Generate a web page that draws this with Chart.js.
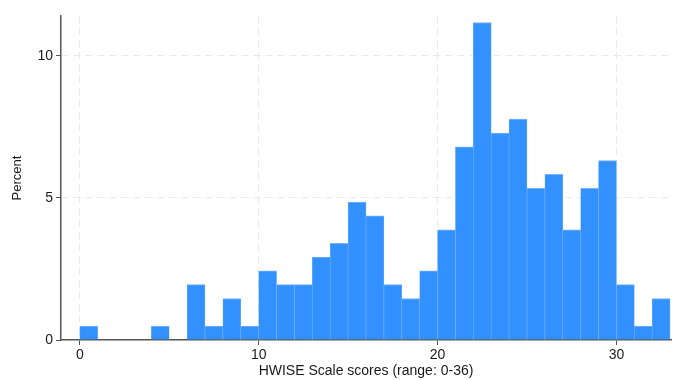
<!DOCTYPE html>
<html>
<head>
  <meta charset="UTF-8">
  <title>HWISE Scale scores</title>
  <script src="https://cdn.jsdelivr.net/npm/chart.js"></script>
  <style>
    html, body { margin: 0; padding: 0; background: #fff; }
    #wrap { width: 675px; height: 380px; }
  </style>
</head>
<body>
  <div id="wrap"><canvas id="hist" width="675" height="380"></canvas></div>

  <script>
    // histogram bins (score, width 1) and percent of respondents
    const binStarts = [0, 1, 2, 3, 4, 5, 6, 7, 8, 9, 10, 11, 12, 13, 14, 15, 16,
                       17, 18, 19, 20, 21, 22, 23, 24, 25, 26, 27, 28, 29, 30, 31, 32];
    const percents  = [0.49, 0, 0, 0, 0.49, 0, 1.95, 0.49, 1.46, 0.49, 2.43, 1.95, 1.95, 2.92, 3.40, 4.85, 4.37,
                       1.95, 1.46, 2.43, 3.88, 6.80, 11.17, 7.28, 7.77, 5.34, 5.83, 3.88, 5.34, 6.31, 1.95, 0.49, 1.46];
    const xTicks = [0, 10, 20, 30];
    const yTicks = [0, 5, 10];

    const txt = '#1a1a1a';
    const font = { family: 'Liberation Sans, Arial, sans-serif', size: 14 };

    const points = binStarts.map((s, i) => ({ x: s + 0.5, y: percents[i] }));

    new Chart(document.getElementById('hist'), {
      type: 'bar',
      data: {
        datasets: [{
          data: points,
          backgroundColor: '#3390ff',
          borderColor: '#74b4ff',
          borderWidth: { top: 1, left: 0.6, right: 0.6, bottom: 0 },
          borderSkipped: false,
          barPercentage: 1,
          categoryPercentage: 1
        }]
      },
      options: {
        responsive: false,
        animation: false,
        layout: { padding: { top: 16, right: 4, left: 0, bottom: 0 } },
        plugins: { legend: { display: false }, tooltip: { enabled: false } },
        scales: {
          x: {
            type: 'linear',
            offset: false,
            min: -1.05,
            max: 33.05,
            afterBuildTicks: s => { s.ticks = xTicks.map(v => ({ value: v })); },
            afterFit: s => { s.height = 40; },
            grid: { offset: false, color: '#e9e9e9', lineWidth: 1, tickColor: '#555', tickLength: 5 },
            border: { color: '#555', width: 1.5, dash: [7, 5] },
            ticks: { color: txt, font: font, padding: 2, maxRotation: 0 },
            title: { display: true, text: 'HWISE Scale scores (range: 0-36)', color: txt, font: font, padding: { top: 0, bottom: 0 } }
          },
          y: {
            min: 0,
            max: 11.4,
            afterBuildTicks: s => { s.ticks = yTicks.map(v => ({ value: v })); },
            afterFit: s => { s.width = 61; },
            grid: {
              color: c => (c.tick && c.tick.value === 0) ? 'rgba(0,0,0,0)' : '#e9e9e9',
              lineWidth: 1, tickColor: '#555', tickLength: 5
            },
            border: { color: '#555', width: 1.5, dash: [7, 5] },
            ticks: { color: txt, font: font, padding: 3 },
            title: { display: true, text: 'Percent', color: txt, font: { family: font.family, size: 13 }, padding: { top: 10, bottom: 4 } }
          }
        }
      }
    });
  </script>
</body>
</html>
